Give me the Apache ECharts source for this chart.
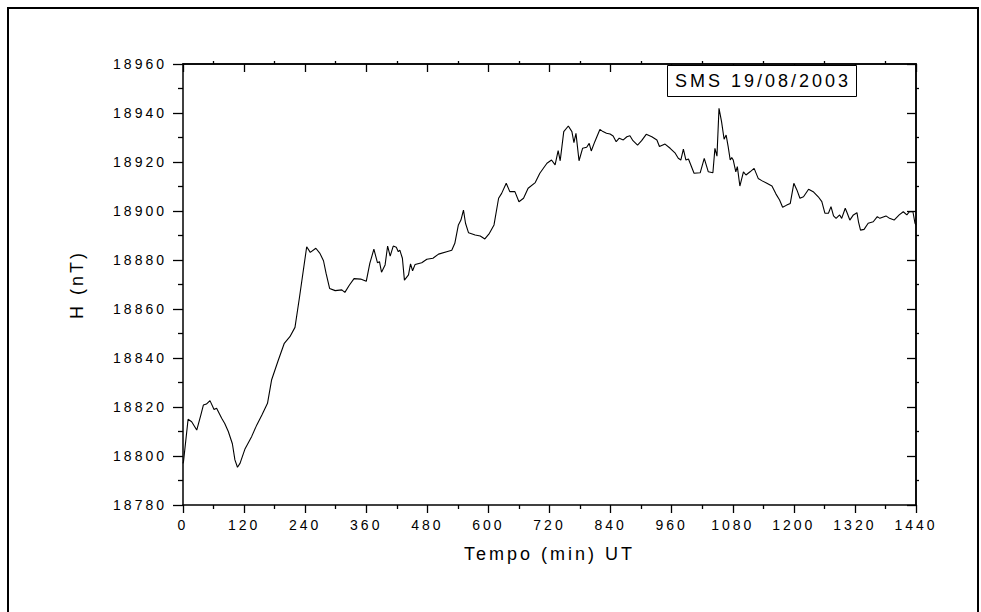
<!DOCTYPE html>
<html>
<head>
<meta charset="utf-8">
<title>SMS 19/08/2003</title>
<script src="https://cdn.jsdelivr.net/npm/echarts@6/dist/echarts.min.js"></script>
<style>
    html, body { margin: 0; padding: 0; background: #fff; }
    #chart { width: 981px; height: 612px; }
    /* the original plot uses widely spaced Helvetica */
    #chart text { letter-spacing: 3px; }
</style>
</head>
<body>
<div id="chart"></div>
<script>
"use strict";

// tempo (min UT) and H component (nT)
const minutes = [
    0, 1, 10, 17, 27, 35, 40, 46, 53, 61, 66, 76, 82, 89, 97, 102, 107, 112, 122, 135,
    145, 155, 166, 174,
    187, 199, 210, 220, 229, 243, 250, 261, 269, 276, 281, 288, 299, 312, 318, 327,
    336, 349, 360, 367, 375, 382, 386, 390, 397, 402, 407, 413, 419, 423, 426, 431,
    435, 443, 447, 451, 456, 469, 479, 491, 502, 518, 528, 534, 541, 546, 551, 555,
    561, 574, 584, 593, 602, 611, 620, 626, 635, 642, 652, 660, 669, 678, 692, 701,
    715, 724, 731,
    737, 741, 748, 757, 764, 768, 772, 778, 785, 793, 798, 802, 809, 819, 825, 832,
    839, 845, 851, 857, 865, 872, 878, 884, 893, 901, 910, 921, 931, 936, 947, 957,
    967, 973, 978, 983, 988, 993, 1004, 1016, 1024, 1032, 1041, 1045, 1049, 1053, 1058, 1063,
    1067, 1071, 1075, 1078, 1081, 1086, 1089, 1094, 1101, 1106, 1114, 1122, 1130, 1137, 1147, 1157,
    1165, 1172, 1178, 1186, 1193, 1200, 1206, 1212, 1219, 1229, 1238, 1248, 1255, 1261, 1268, 1273,
    1278, 1283, 1290, 1294, 1301, 1305, 1310, 1317, 1324, 1327, 1331, 1338, 1346, 1356, 1364, 1369,
    1381, 1388, 1397, 1407, 1415, 1422, 1427, 1434, 1438, 1440
];
const hValues = [
    18797, 18797.7, 18815, 18814, 18810.6, 18816.7, 18820.8, 18821.2, 18822.6, 18819,
    18819.5, 18815.4, 18813.3, 18810, 18805, 18798.4, 18795.4, 18797, 18803, 18808,
    18812.7, 18816.7, 18821.5, 18831,
    18839, 18846, 18848.7, 18852.5, 18865, 18885.4, 18883.1, 18884.8, 18882.7, 18879.7,
    18874.6, 18868.4, 18867.5, 18867.8, 18866.8, 18869.8, 18872.4, 18872.2, 18871.3, 18878.6,
    18884.4, 18878.9, 18879.3, 18875, 18878, 18885.7, 18881.6, 18885.7, 18885.2, 18883.4,
    18884, 18880.7, 18871.8, 18873.9, 18878.4, 18875.6, 18878.2, 18878.9, 18880.3, 18880.7,
    18882.4, 18883.4, 18884, 18886.8, 18894.3, 18896.3, 18900.4, 18895, 18891.1, 18890.2,
    18889.8, 18888.6, 18890.9, 18894.3, 18905.2, 18907.2, 18911.3, 18907.9, 18907.9, 18903.8,
    18905.2, 18909.3, 18911.6, 18915.4, 18919.5, 18920.8, 18918.8,
    18924.6, 18920.5, 18932.4, 18934.7, 18932.4, 18927.9, 18931.7, 18920.5, 18925.6, 18926,
    18927.6, 18924.5, 18928.3, 18933.3, 18932.4, 18931.7, 18931.4, 18930.6, 18928.3, 18929.7,
    18929, 18930.3, 18930.7, 18928.7, 18926.9, 18928.7, 18931.3, 18930.3, 18929, 18926.3,
    18927.3, 18925.6, 18923.6, 18921.5, 18920.8, 18925.3, 18920.8, 18921.2, 18915.4, 18915.6,
    18921.5, 18916, 18915.6, 18925.6, 18922.4, 18941.9, 18936.5, 18929.3, 18931, 18926.3,
    18920.8, 18921.8, 18920.8, 18916, 18918.1, 18910.2, 18916, 18914.7, 18916, 18917.4,
    18913.3, 18912.4, 18911.3, 18910.2, 18906.9, 18904.5, 18901.5, 18902.4, 18903.1, 18911.3,
    18908.6, 18905.2, 18905.8, 18908.9, 18907.9, 18905.8, 18903.8, 18899.1, 18899.1, 18901.8,
    18898, 18897, 18898.4, 18897, 18901.1, 18899.1, 18896.3, 18898.4, 18899.3, 18895.6,
    18892.2, 18892.5, 18895, 18895.6, 18897.7, 18897, 18898, 18897, 18896.3, 18898.4,
    18899.7, 18898.4, 18899.7, 18899.7, 18895, 18894.3
];

const xRange = { min: 0, max: 1440, interval: 120 };
const yRange = { min: 18780, max: 18960, interval: 20 };
const labelText = 'SMS 19/08/2003';
const xTitle = 'Tempo (min) UT';
const yTitle = 'H (nT)';

const FONT = "'Liberation Sans', Arial, Helvetica, sans-serif";

let myChart = echarts.init(document.getElementById('chart'), null, { renderer: 'svg' });

let seriesData = minutes.map(function (m, i) {
    return [m, hValues[i]];
});

// axis helpers: main axes carry labels, the mirrored ones only ticks
function baseAxis(range) {
    return {
        type: 'value',
        min: range.min,
        max: range.max,
        interval: range.interval,
        splitLine: { show: false },
        axisLine: { show: true, onZero: false, lineStyle: { color: '#000', width: 1.5 } },
        axisLabel: { show: false },
        axisTick: { show: false },
        minorTick: { show: false }
    };
}

function mainAxis(range, position, opts) {
    let ax = baseAxis(range);
    ax.position = position;
    ax.axisTick = { show: true, inside: false, length: opts.tick, lineStyle: { color: '#000', width: 1.3 } };
    ax.minorTick = { show: true, splitNumber: 2, length: opts.minor, lineStyle: { color: '#000', width: 1.3 } };
    ax.axisLabel = {
        show: true,
        color: '#000',
        fontSize: 14,
        fontFamily: FONT,
        margin: opts.margin,
        showMinLabel: true,
        showMaxLabel: true,
        hideOverlap: false,
        // plain numbers, no thousands separator
        formatter: function (v) {
            return String(v);
        }
    };
    return ax;
}

function majorInside(range, position, len) {
    let ax = baseAxis(range);
    ax.position = position;
    ax.axisTick = { show: true, inside: true, length: len, lineStyle: { color: '#000', width: 1.3 } };
    return ax;
}

function minorOutside(range, position, len) {
    let ax = baseAxis(range);
    ax.position = position;
    ax.axisTick = { show: false, inside: false };
    ax.minorTick = { show: true, splitNumber: 2, length: len, lineStyle: { color: '#000', width: 1.3 } };
    return ax;
}

let xMain = mainAxis(xRange, 'bottom', { tick: 8, minor: 4, margin: 13 });
xMain.name = xTitle;
xMain.nameLocation = 'middle';
xMain.nameGap = 40;
xMain.nameTextStyle = { color: '#000', fontSize: 18, fontFamily: FONT };

let yMain = mainAxis(yRange, 'left', { tick: 10, minor: 5, margin: 16 });
yMain.name = yTitle;
yMain.nameLocation = 'middle';
yMain.nameGap = 97;
yMain.nameTextStyle = { color: '#000', fontSize: 18, fontFamily: FONT };

let option = {
    animation: false,
    backgroundColor: '#fff',
    grid: {
        left: 183,
        top: 64,
        width: 733,
        height: 441
    },
    xAxis: [
        xMain,
        majorInside(xRange, 'top', 8),
        minorOutside(xRange, 'top', 3)
    ],
    yAxis: [
        yMain,
        majorInside(yRange, 'right', 9),
        minorOutside(yRange, 'right', 3)
    ],
    graphic: [
        {
            // outer frame of the figure
            type: 'rect',
            silent: true,
            shape: { x: 8, y: 8, width: 970, height: 640 },
            style: { fill: 'none', stroke: '#000', lineWidth: 2 }
        },
        {
            type: 'rect',
            silent: true,
            shape: { x: 667.5, y: 65.5, width: 189, height: 31 },
            style: { fill: '#fff', stroke: '#000', lineWidth: 1 },
            z: 10
        },
        {
            type: 'text',
            silent: true,
            x: 763,
            y: 81,
            style: {
                text: labelText,
                fill: '#000',
                font: '18px ' + FONT,
                textAlign: 'center',
                textVerticalAlign: 'middle'
            },
            z: 11
        }
    ],
    series: [{
        type: 'line',
        xAxisIndex: 0,
        yAxisIndex: 0,
        showSymbol: false,
        symbol: 'none',
        lineStyle: { color: '#000', width: 1.1 },
        data: seriesData
    }]
};

myChart.setOption(option);
</script>
</body>
</html>
